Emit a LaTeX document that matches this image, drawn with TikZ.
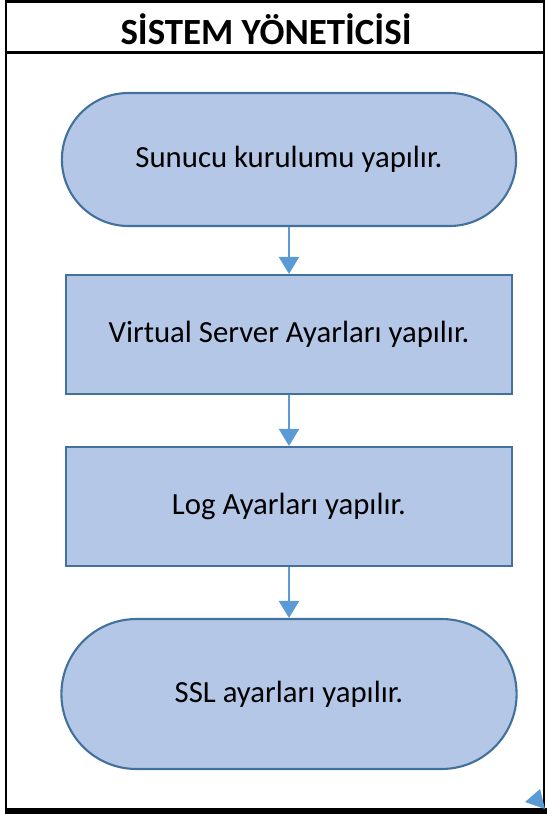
\documentclass[tikz,border=0pt]{standalone}
\usepackage{fontspec}
\setmainfont{Carlito}
\usetikzlibrary{shapes.misc,arrows.meta}

\definecolor{boxfill}{HTML}{B4C7E7}
\definecolor{boxline}{HTML}{41719C}
\definecolor{flowblue}{HTML}{5B9BD5}

\tikzset{
  terminal/.style={rounded rectangle, draw=boxline, fill=boxfill, line width=1.2pt,
    font=\fontsize{17.5}{21}\selectfont},
  process/.style={rectangle, draw=boxline, fill=boxfill, line width=1.2pt,
    minimum width=8.92cm, minimum height=2.38cm, font=\fontsize{17.5}{21}\selectfont},
  flow/.style={draw=flowblue, line width=1.3pt, -{Triangle[width=0.4cm,length=0.34cm]}}
}

\begin{document}
\begin{tikzpicture}[x=0.02cm, y=-0.02cm]
\useasboundingbox (0,0) rectangle (547,814);

% çerçeve
\draw[line width=1.5pt] (6,1.5) -- (544,1.5);
\draw[line width=1.5pt] (6,0) -- (6,814);
\draw[line width=1.5pt] (544,0) -- (544,814);
\draw[line width=1.7pt] (6,52.5) -- (544,52.5);
\draw[line width=3pt] (6,811) -- (547,811);

% başlık
\node[font=\fontsize{21}{25}\selectfont\bfseries] (title) at (266,29) {SİSTEM YÖNETİCİSİ};

% adımlar
\node[terminal, minimum width=9.32cm, minimum height=2.66cm] (kurulum) at (289,159.5) {Sunucu kurulumu yapılır.};
\node[process] (virtual) at (289,334.5) {Virtual Server Ayarları yapılır.};
\node[process] (log) at (289,506.5) {Log Ayarları yapılır.};
\node[terminal, minimum width=9.34cm, minimum height=3cm] (ssl) at (289,694) {SSL ayarları yapılır.};

% oklar
\draw[flow] (kurulum.south) -- (virtual.north);
\draw[flow] (virtual.south) -- (log.north);
\draw[flow] (log.south) -- (ssl.north);

% köşedeki ok ucu
\fill[flowblue] (525,802) -- (540,789) -- (545,809) -- cycle;
\end{tikzpicture}
\end{document}
